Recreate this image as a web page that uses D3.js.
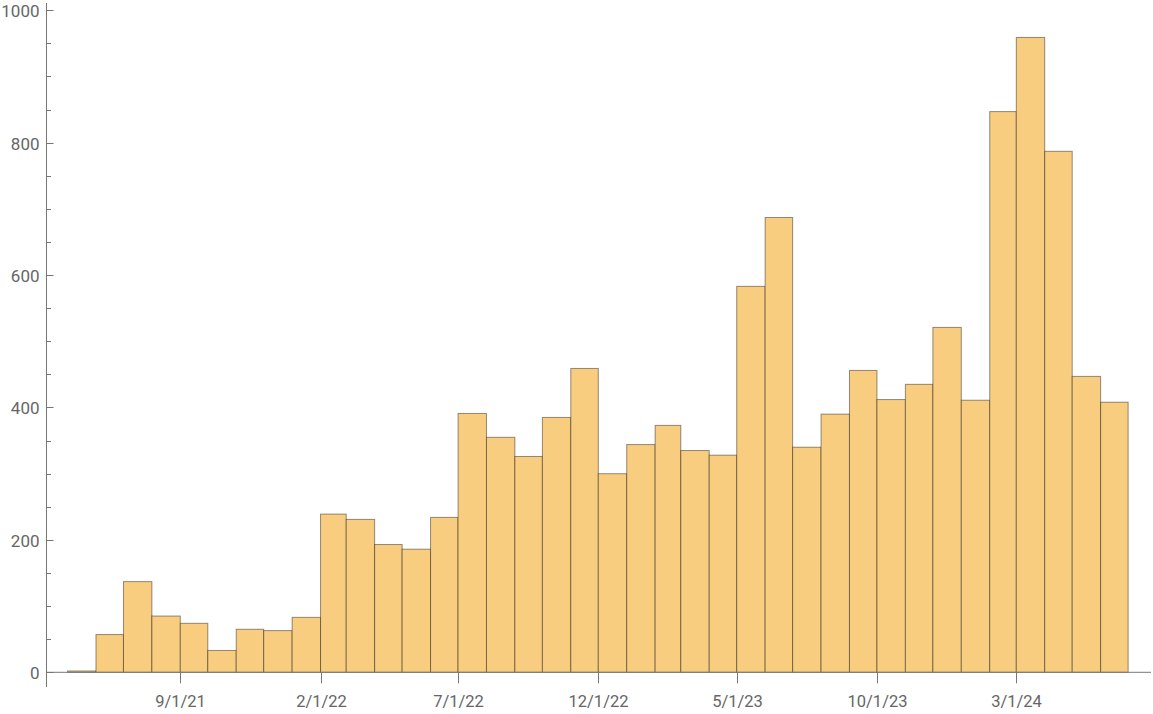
<!DOCTYPE html>
<html>
<head>
<meta charset="utf-8">
<script src="https://cdn.jsdelivr.net/npm/d3@7"></script>
<style>
  body { margin: 0; background: #fff; }
  svg { display: block; font-family: Roboto, "Noto Sans", sans-serif; }
  .lbl { fill: #666; font-size: 16.5px; }
  .ylbl { font-size: 17px; }
</style>
</head>
<body>
<div id="chart"></div>
<script>
// monthly bins, first day of each month
var months = [
  "2021-05", "2021-06", "2021-07", "2021-08", "2021-09", "2021-10", "2021-11", "2021-12",
  "2022-01", "2022-02", "2022-03", "2022-04", "2022-05", "2022-06", "2022-07", "2022-08",
  "2022-09", "2022-10", "2022-11", "2022-12", "2023-01", "2023-02", "2023-03", "2023-04",
  "2023-05", "2023-06", "2023-07", "2023-08", "2023-09", "2023-10", "2023-11", "2023-12",
  "2024-01", "2024-02", "2024-03", "2024-04", "2024-05", "2024-06"
];
var counts = [
  2, 57, 137, 85, 74, 33, 65, 63,
  83, 239, 231, 193, 186, 234, 391, 355,
  326, 385, 459, 300, 344, 373, 335, 328,
  583, 687, 340, 390, 456, 412, 435, 521,
  411, 847, 959, 787, 447, 408
];
var xTickDates = ["2021-09-01", "2022-02-01", "2022-07-01", "2022-12-01", "2023-05-01", "2023-10-01", "2024-03-01"];
var xTickLabels = ["9/1/21", "2/1/22", "7/1/22", "12/1/22", "5/1/23", "10/1/23", "3/1/24"];
var yTicks = [0, 200, 400, 600, 800, 1000];

var width = 1153, height = 714;
var axisX = 46.5, axisY = 672.3;

var parseMonth = d3.utcParse("%Y-%m");
var parseDay = d3.utcParse("%Y-%m-%d");

var data = months.map(function(m, i) {
  var start = parseMonth(m);
  return {start: start, end: d3.utcMonth.offset(start, 1), value: counts[i]};
});

// anchored on two tick positions
var x = d3.scaleUtc()
    .domain([parseDay("2021-09-01"), parseDay("2024-03-01")])
    .range([180.3, 1016.3]);

var y = d3.scaleLinear()
    .domain([0, 1000])
    .range([axisY, 10.3]);

var svg = d3.select("#chart").append("svg")
    .attr("width", width)
    .attr("height", height);

// bars
svg.append("g").selectAll("rect")
    .data(data)
  .enter().append("rect")
    .attr("x", function(d) { return x(d.start); })
    .attr("y", function(d) { return y(d.value); })
    .attr("width", function(d) { return x(d.end) - x(d.start); })
    .attr("height", function(d) { return y(0) - y(d.value); })
    .attr("fill", "#f9cd7f")
    .attr("stroke", "rgba(0,0,0,0.42)")
    .attr("stroke-width", 1);

var axisColor = "#777";

// x axis
var gx = svg.append("g");
gx.append("line")
    .attr("x1", axisX).attr("x2", 1151)
    .attr("y1", axisY).attr("y2", axisY)
    .attr("stroke", axisColor);
var xt = gx.selectAll(".xt")
    .data(xTickDates.map(function(d, i) { return {date: parseDay(d), label: xTickLabels[i]}; }))
  .enter().append("g")
    .attr("class", "xt")
    .attr("transform", function(d) { return "translate(" + Math.round(x(d.date)) + ".5,0)"; });
xt.append("line")
    .attr("y1", axisY).attr("y2", axisY + 11)
    .attr("stroke", axisColor);
xt.append("text")
    .attr("class", "lbl")
    .attr("y", 706.8)
    .attr("text-anchor", "middle")
    .text(function(d) { return d.label; });

// y axis
var gy = svg.append("g");
gy.append("line")
    .attr("x1", axisX).attr("x2", axisX)
    .attr("y1", 687).attr("y2", 3)
    .attr("stroke", axisColor);
gy.selectAll(".minor")
    .data(d3.range(0, 1001, 50).filter(function(v) { return v % 200 !== 0; }))
  .enter().append("line")
    .attr("x1", axisX).attr("x2", axisX + 4.5)
    .attr("y1", function(d) { return Math.round(y(d)) + 0.5; })
    .attr("y2", function(d) { return Math.round(y(d)) + 0.5; })
    .attr("stroke", axisColor);
var yt = gy.selectAll(".yt")
    .data(yTicks)
  .enter().append("g")
    .attr("transform", function(d) { return "translate(0," + (Math.round(y(d)) + 0.5) + ")"; });
yt.append("line")
    .attr("x1", axisX).attr("x2", axisX + 7)
    .attr("stroke", axisColor);
yt.append("text")
    .attr("class", "lbl ylbl")
    .attr("x", 39.5)
    .attr("dy", "0.36em")
    .attr("text-anchor", "end")
    .text(function(d) { return d; });
</script>
</body>
</html>
